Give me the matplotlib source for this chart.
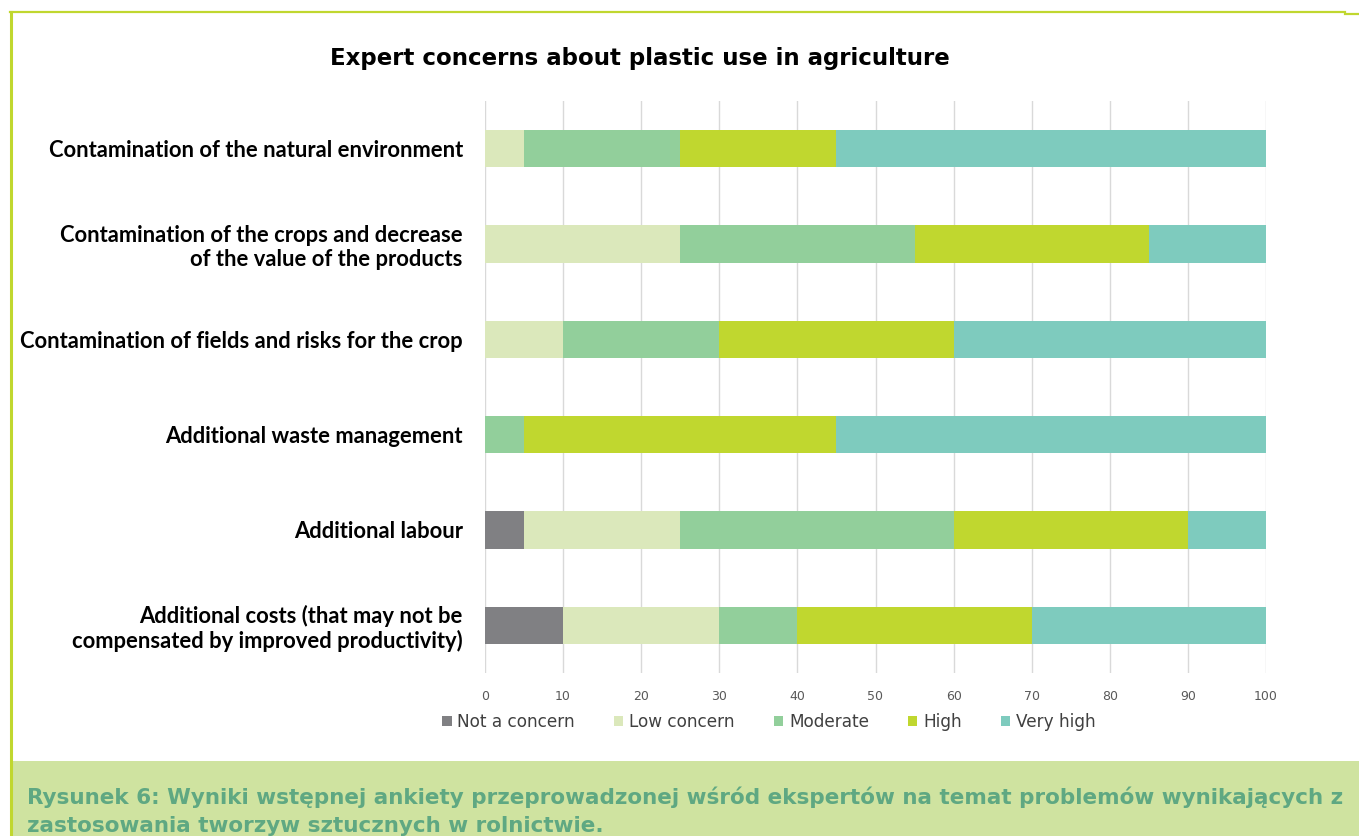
import numpy as np
import matplotlib
matplotlib.use("Agg")
from matplotlib import pyplot as plt
from matplotlib.patches import Rectangle, Patch
from matplotlib.lines import Line2D

# data, top row first
categories = [
    "Contamination of the natural environment",
    "Contamination of the crops and decrease\nof the value of the products",
    "Contamination of fields and risks for the crop",
    "Additional waste management",
    "Additional labour",
    "Additional costs (that may not be\ncompensated by improved productivity)",
]
levels = ["Not a concern", "Low concern", "Moderate", "High", "Very high"]
not_a_concern = [0, 0, 0, 0, 5, 10]
low_concern = [5, 25, 10, 0, 20, 20]
moderate = [20, 30, 20, 5, 35, 10]
high = [20, 30, 30, 40, 30, 30]
very_high = [55, 15, 40, 55, 10, 30]
colors = ["#808083", "#dbe8bb", "#92cf9b", "#c0d72f", "#7ecbbe"]

title = "Expert concerns about plastic use in agriculture"
caption1 = ("Rysunek 6: Wyniki wstępnej ankiety przeprowadzonej wśród ekspertów "
            "na temat problemów wynikających z")
caption2 = "zastosowania tworzyw sztucznych w rolnictwie."

W, H = 1359, 836
fig = plt.figure(figsize=(W / 100, H / 100), dpi=100)
fig.patch.set_facecolor("white")

ax = fig.add_axes([485 / W, 1 - 673 / H, (1266 - 485) / W, (673 - 101) / H])
y = np.arange(len(categories))
series = [not_a_concern, low_concern, moderate, high, very_high]
left = np.zeros(len(categories))
for vals, col, name in zip(series, colors, levels):
    ax.barh(y, vals, left=left, height=0.39, color=col, label=name, zorder=3)
    left = left + np.array(vals)

ax.set_xlim(0, 100)
ax.set_ylim(len(categories) - 0.5, -0.5)
ax.set_xticks(np.arange(0, 101, 10))
ax.set_yticks(y)
ax.set_yticklabels(categories, fontsize=15.8, fontweight="bold", family="Lato",
                   linespacing=1.15)
ax.tick_params(axis="y", length=0, pad=16)
ax.tick_params(axis="x", length=0, pad=12, labelsize=9, labelcolor="#595959")
ax.grid(axis="x", color="#d9d9d9", linewidth=1, zorder=0)
for s in ax.spines.values():
    s.set_visible(False)

fig.text(640 / W, 1 - 58 / H, title, ha="center", va="center", fontsize=16.5,
         fontweight="bold", color="black")

handles = [Patch(facecolor=c, edgecolor="none", label=n) for c, n in zip(colors, levels)]
fig.legend(handles=handles, loc="center", bbox_to_anchor=(769 / W, 1 - 722 / H),
           ncol=5, frameon=False, fontsize=12.2, handlelength=0.55, handleheight=0.55,
           handletextpad=0.35, columnspacing=2.3, labelcolor="#404040")

# frame and caption band
fig.add_artist(Rectangle((12 / W, 0), 1 - 12 / W, (H - 761) / H,
                         transform=fig.transFigure, facecolor="#cfe3a0",
                         edgecolor="none", zorder=0))
fig.add_artist(Line2D([11 / W, 11 / W], [0, 1 - 12 / H], transform=fig.transFigure,
                      color="#c0d72f", linewidth=2.2))
fig.add_artist(Line2D([10 / W, 1345 / W], [1 - 12 / H, 1 - 12 / H],
                      transform=fig.transFigure, color="#c0d72f", linewidth=1.6))
fig.add_artist(Line2D([1345 / W, 1], [1 - 14 / H, 1 - 14 / H],
                      transform=fig.transFigure, color="#c0d72f", linewidth=1.6))

fig.text(27 / W, 1 - 804 / H, caption1, ha="left", va="baseline", fontsize=15.5,
         fontweight="bold", color="#5fa882")
fig.text(27 / W, 1 - 832 / H, caption2, ha="left", va="baseline", fontsize=15.5,
         fontweight="bold", color="#5fa882")

fig.savefig("out.png", dpi=100)
